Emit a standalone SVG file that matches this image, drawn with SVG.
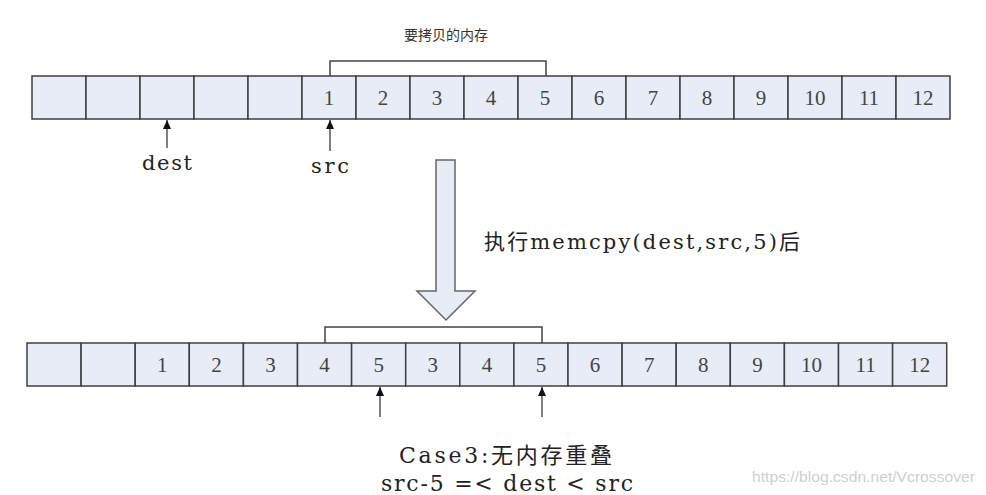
<svg xmlns="http://www.w3.org/2000/svg" width="986" height="495" viewBox="0 0 986 495">
<style>
.cell{fill:#E7ECF6;stroke:#3f3f3f;stroke-width:1.5}
.num{font-family:"Liberation Serif","Times New Roman",serif;font-size:21px;fill:#444;text-anchor:middle}
.lbl{font-family:"DejaVu Serif","Noto Sans CJK SC",serif;fill:#222}
.cjk{font-family:"Noto Sans CJK SC",sans-serif;fill:#333}
.brk{fill:none;stroke:#444;stroke-width:1.5}
.ptr{fill:none;stroke:#555;stroke-width:1.5;marker-end:url(#ah)}
.big{fill:#E7ECF6;stroke:#666;stroke-width:1.5}
.wm{font-family:"Liberation Sans",Arial,sans-serif;font-size:15px;fill:#cfcfcf}
</style>
<defs>
<marker id="ah" markerUnits="userSpaceOnUse" markerWidth="9" markerHeight="8" refX="9" refY="4" orient="auto">
<path d="M0,0 L9,4 L0,8 z" fill="#111"/>
</marker>
</defs>
<rect width="986" height="495" fill="#fff"/>

<g id="top-row">
<g id="t1"><rect class="cell" x="32" y="76" width="54" height="43"/></g>
<g id="t2"><rect class="cell" x="86" y="76" width="54" height="43"/></g>
<g id="t3"><rect class="cell" x="140" y="76" width="54" height="43"/></g>
<g id="t4"><rect class="cell" x="194" y="76" width="54" height="43"/></g>
<g id="t5"><rect class="cell" x="248" y="76" width="54" height="43"/></g>
<g id="t6"><rect class="cell" x="302" y="76" width="54" height="43"/><text class="num" x="329" y="105">1</text></g>
<g id="t7"><rect class="cell" x="356" y="76" width="54" height="43"/><text class="num" x="383" y="105">2</text></g>
<g id="t8"><rect class="cell" x="410" y="76" width="54" height="43"/><text class="num" x="437" y="105">3</text></g>
<g id="t9"><rect class="cell" x="464" y="76" width="54" height="43"/><text class="num" x="491" y="105">4</text></g>
<g id="t10"><rect class="cell" x="518" y="76" width="54" height="43"/><text class="num" x="545" y="105">5</text></g>
<g id="t11"><rect class="cell" x="572" y="76" width="54" height="43"/><text class="num" x="599" y="105">6</text></g>
<g id="t12"><rect class="cell" x="626" y="76" width="54" height="43"/><text class="num" x="653" y="105">7</text></g>
<g id="t13"><rect class="cell" x="680" y="76" width="54" height="43"/><text class="num" x="707" y="105">8</text></g>
<g id="t14"><rect class="cell" x="734" y="76" width="54" height="43"/><text class="num" x="761" y="105">9</text></g>
<g id="t15"><rect class="cell" x="788" y="76" width="54" height="43"/><text class="num" x="815" y="105">10</text></g>
<g id="t16"><rect class="cell" x="842" y="76" width="54" height="43"/><text class="num" x="869" y="105">11</text></g>
<g id="t17"><rect class="cell" x="896" y="76" width="54" height="43"/><text class="num" x="923" y="105">12</text></g>
</g>

<g id="bottom-row">
<g id="b1"><rect class="cell" x="27" y="343" width="54.1" height="43"/></g>
<g id="b2"><rect class="cell" x="81.1" y="343" width="54.1" height="43"/></g>
<g id="b3"><rect class="cell" x="135.2" y="343" width="54.1" height="43"/><text class="num" x="162.3" y="372">1</text></g>
<g id="b4"><rect class="cell" x="189.3" y="343" width="54.1" height="43"/><text class="num" x="216.4" y="372">2</text></g>
<g id="b5"><rect class="cell" x="243.4" y="343" width="54.1" height="43"/><text class="num" x="270.5" y="372">3</text></g>
<g id="b6"><rect class="cell" x="297.5" y="343" width="54.1" height="43"/><text class="num" x="324.6" y="372">4</text></g>
<g id="b7"><rect class="cell" x="351.6" y="343" width="54.1" height="43"/><text class="num" x="378.7" y="372">5</text></g>
<g id="b8"><rect class="cell" x="405.7" y="343" width="54.1" height="43"/><text class="num" x="432.8" y="372">3</text></g>
<g id="b9"><rect class="cell" x="459.8" y="343" width="54.1" height="43"/><text class="num" x="486.9" y="372">4</text></g>
<g id="b10"><rect class="cell" x="513.9" y="343" width="54.1" height="43"/><text class="num" x="541" y="372">5</text></g>
<g id="b11"><rect class="cell" x="568" y="343" width="54.1" height="43"/><text class="num" x="595.1" y="372">6</text></g>
<g id="b12"><rect class="cell" x="622.1" y="343" width="54.1" height="43"/><text class="num" x="649.2" y="372">7</text></g>
<g id="b13"><rect class="cell" x="676.2" y="343" width="54.1" height="43"/><text class="num" x="703.3" y="372">8</text></g>
<g id="b14"><rect class="cell" x="730.3" y="343" width="54.1" height="43"/><text class="num" x="757.4" y="372">9</text></g>
<g id="b15"><rect class="cell" x="784.4" y="343" width="54.1" height="43"/><text class="num" x="811.5" y="372">10</text></g>
<g id="b16"><rect class="cell" x="838.5" y="343" width="54.1" height="43"/><text class="num" x="865.6" y="372">11</text></g>
<g id="b17"><rect class="cell" x="892.6" y="343" width="54.1" height="43"/><text class="num" x="919.7" y="372">12</text></g>
</g>

<g id="connectors">
<path class="brk" d="M330,76 V61 H546 V76"/>
<path class="brk" d="M325,343 V327 H542 V343"/>
<line class="ptr" x1="167" y1="148" x2="167" y2="120"/>
<line class="ptr" x1="330" y1="151" x2="330" y2="120"/>
<line class="ptr" x1="380" y1="417" x2="380" y2="387"/>
<line class="ptr" x1="542" y1="417" x2="542" y2="387"/>
<polygon id="big-arrow" class="big" points="436,160 455,160 455,291 475,291 446,320 417,291 436,291"/>
</g>

<g id="labels">
<text class="cjk" x="446" y="40" font-size="14" text-anchor="middle">要拷贝的内存</text>
<text class="lbl" x="142" y="170" font-size="21" textLength="50" lengthAdjust="spacing">dest</text>
<text class="lbl" x="311" y="173" font-size="21" textLength="38" lengthAdjust="spacing">src</text>
<text class="lbl" x="484" y="249" font-size="21" textLength="316" lengthAdjust="spacing">执行memcpy(dest,src,5)后</text>
<text class="lbl" x="399" y="463" font-size="22" textLength="213" lengthAdjust="spacing">Case3:无内存重叠</text>
<text class="lbl" x="381" y="491" font-size="22" textLength="252" lengthAdjust="spacing">src-5 =&lt; dest &lt; src</text>
<text class="wm" x="752" y="482" textLength="223" lengthAdjust="spacingAndGlyphs">https://blog.csdn.net/Vcrossover</text>
</g>
</svg>
